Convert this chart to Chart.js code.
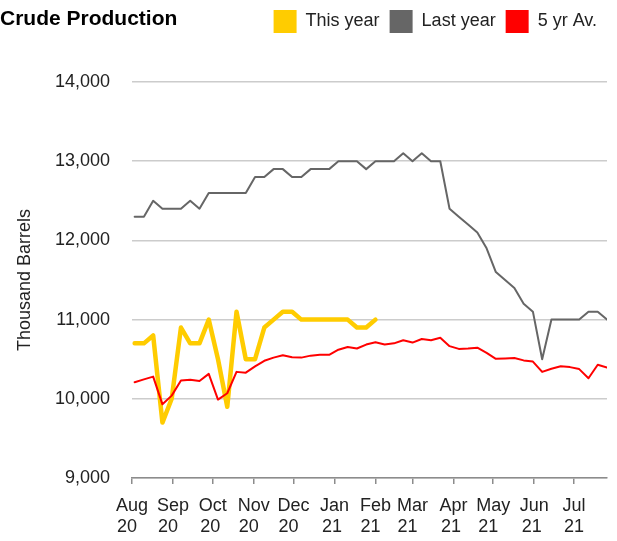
<!DOCTYPE html>
<html>
<head>
<meta charset="utf-8">
<title>Crude Production</title>
<script src="https://cdn.jsdelivr.net/npm/chart.js@4.4.1/dist/chart.umd.min.js"></script>
<style>
  body { margin: 0; background: #fff; }
  #wrap { position: relative; width: 617px; height: 541px; }
  #title {
    position: absolute; left: 0; top: 6px;
    font: bold 21px/24px "Liberation Sans", Arial, sans-serif; color: #000;
  }
</style>
</head>
<body>
<div id="wrap">
  <canvas id="crudeChart"></canvas>
  <div id="title">Crude Production</div>
</div>
<script>
// weekly points (week start), Aug 2020 - Jul 2021
const weeks = [
  "2020-08-03", "2020-08-10", "2020-08-17", "2020-08-24", "2020-08-31",
  "2020-09-07", "2020-09-14", "2020-09-21", "2020-09-28",
  "2020-10-05", "2020-10-12", "2020-10-19", "2020-10-26",
  "2020-11-02", "2020-11-09", "2020-11-16", "2020-11-23", "2020-11-30",
  "2020-12-07", "2020-12-14", "2020-12-21", "2020-12-28",
  "2021-01-04", "2021-01-11", "2021-01-18", "2021-01-25",
  "2021-02-01", "2021-02-08", "2021-02-15", "2021-02-22",
  "2021-03-01", "2021-03-08", "2021-03-15", "2021-03-22", "2021-03-29",
  "2021-04-05", "2021-04-12", "2021-04-19", "2021-04-26",
  "2021-05-03", "2021-05-10", "2021-05-17", "2021-05-24", "2021-05-31",
  "2021-06-07", "2021-06-14", "2021-06-21", "2021-06-28",
  "2021-07-05", "2021-07-12", "2021-07-19", "2021-07-26"
];

const monthStarts = [
  "2020-08-01", "2020-09-01", "2020-10-01", "2020-11-01", "2020-12-01", "2021-01-01",
  "2021-02-01", "2021-03-01", "2021-04-01", "2021-05-01", "2021-06-01", "2021-07-01"
];
const monthNames = ["Aug", "Sep", "Oct", "Nov", "Dec", "Jan", "Feb", "Mar", "Apr", "May", "Jun", "Jul"];
const yearNames = ["20", "20", "20", "20", "20", "21", "21", "21", "21", "21", "21", "21"];

const thisYear = [
  10700, 10700, 10800, 9700, 10000, 10900, 10700, 10700, 11000, 10500,
  9900, 11100, 10500, 10500, 10900, 11000, 11100, 11100, 11000, 11000,
  11000, 11000, 11000, 11000, 10900, 10900, 11000
];

const lastYear = [
  12300, 12300, 12500, 12400, 12400, 12400, 12500, 12400, 12600, 12600,
  12600, 12600, 12600, 12800, 12800, 12900, 12900, 12800, 12800, 12900,
  12900, 12900, 13000, 13000, 13000, 12900, 13000, 13000, 13000, 13100,
  13000, 13100, 13000, 13000, 12400, 12300, 12200, 12100, 11900, 11600,
  11500, 11400, 11200, 11100, 10500, 11000, 11000, 11000, 11000, 11100,
  11100, 11000
];

const fiveYearAvg = [
  10210, 10245, 10280, 9930, 10040, 10230, 10240, 10225, 10315, 9990,
  10070, 10340, 10330, 10410, 10480, 10520, 10550, 10525, 10520, 10545,
  10555, 10555, 10620, 10655, 10635, 10685, 10715, 10685, 10700, 10740,
  10710, 10755, 10740, 10770, 10665, 10630, 10635, 10645, 10580, 10505,
  10510, 10515, 10485, 10470, 10340, 10380, 10410, 10400, 10375, 10260,
  10430, 10395
];

const origin = Date.parse("2020-08-01");
const dayOf = (s) => (Date.parse(s) - origin) / 86400000;
const toPoints = (values) => values.map((v, i) => ({ x: dayOf(weeks[i]), y: v }));

const font = { family: '"Liberation Sans", Arial, sans-serif', size: 18 };

const ctx = document.getElementById("crudeChart").getContext("2d");

// the year line sits left-aligned under the month name, so pad it to the month's width
function yearLine(month, year) {
  ctx.save();
  ctx.font = `${font.size}px ${font.family}`;
  let s = year;
  while (ctx.measureText(s + " ").width <= ctx.measureText(month).width) s += " ";
  ctx.restore();
  return s;
}

// push the plot area down below the legend row
const legendGap = {
  id: "legendGap",
  beforeInit(chart) {
    const fit = chart.legend.fit;
    chart.legend.fit = function () {
      fit.call(this);
      this.height += 39;
    };
  },
};

new Chart(ctx, {
  type: "line",
  data: {
    datasets: [
      {
        label: "This year",
        data: toPoints(thisYear),
        borderColor: "#ffcc00",
        backgroundColor: "#ffcc00",
        borderWidth: 4.5,
        order: 1,
      },
      {
        label: "Last year",
        data: toPoints(lastYear),
        borderColor: "#666666",
        backgroundColor: "#666666",
        borderWidth: 2,
        order: 2,
      },
      {
        label: "5 yr Av.",
        data: toPoints(fiveYearAvg),
        borderColor: "#ff0000",
        backgroundColor: "#ff0000",
        borderWidth: 2,
        order: 0,
      },
    ],
  },
  options: {
    animation: false,
    responsive: true,
    maintainAspectRatio: false,
    layout: { padding: { left: 0, right: 10, top: 0, bottom: 0 } },
    elements: {
      line: { tension: 0, fill: false, borderJoinStyle: "round", borderCapStyle: "round" },
      point: { radius: 0 },
    },
    scales: {
      x: {
        type: "linear",
        min: 0,
        max: dayOf(weeks[weeks.length - 1]),
        afterBuildTicks: (scale) => {
          scale.ticks = monthStarts.map((d) => ({ value: dayOf(d) }));
        },
        afterFit: (scale) => {
          scale.height = 63;
        },
        grid: {
          drawOnChartArea: false,
          color: "#8c8c8c",
          lineWidth: 1.5,
          tickLength: 6,
        },
        border: { color: "#8c8c8c", width: 1.5 },
        ticks: {
          autoSkip: false,
          maxRotation: 0,
          padding: 11,
          color: "#222",
          font: font,
          callback: (value, i) => [monthNames[i], yearLine(monthNames[i], yearNames[i])],
        },
      },
      y: {
        min: 9000,
        max: 14000,
        afterFit: (scale) => {
          scale.width = 132;
        },
        grid: { color: "#cccccc", lineWidth: 1.5, drawTicks: false },
        border: { display: false },
        ticks: {
          stepSize: 1000,
          padding: 22,
          color: "#222",
          font: font,
          callback: (v) => v.toLocaleString("en-US"),
        },
        title: {
          display: true,
          text: "Thousand Barrels",
          color: "#222",
          font: font,
          padding: { top: 14, bottom: 0 },
        },
      },
    },
    plugins: {
      legend: {
        position: "top",
        align: "end",
        labels: {
          boxWidth: 23,
          boxHeight: 23,
          padding: 10,
          color: "#222",
          font: font,
          sort: (a, b) => a.datasetIndex - b.datasetIndex,
          generateLabels: (chart) =>
            Chart.defaults.plugins.legend.labels
              .generateLabels(chart)
              .map((item) => ({ ...item, lineWidth: 0 })),
        },
      },
      tooltip: { enabled: false },
    },
  },
  plugins: [legendGap],
});
</script>
</body>
</html>
